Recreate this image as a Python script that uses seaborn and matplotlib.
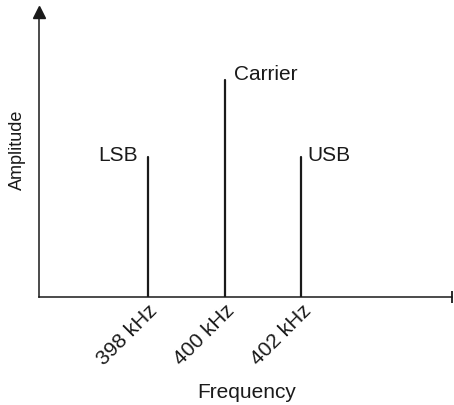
import matplotlib
matplotlib.use("Agg")
import matplotlib.pyplot as plt
import seaborn as sns
import pandas as pd

# Spectrum of an AM signal: carrier plus lower/upper sidebands
freqs_khz = [398, 400, 402]
amplitudes = [0.645, 1.0, 0.645]
names = ["LSB", "Carrier", "USB"]
tick_labels = ["398 kHz", "400 kHz", "402 kHz"]

sns.set_theme(style="white")
plt.rcParams["font.family"] = ["Liberation Sans", "DejaVu Sans"]

ink = "#1a1a1a"

# each spectral line is a segment from the baseline up to its amplitude
rows = []
for name, f, a in zip(names, freqs_khz, amplitudes):
    rows.append({"signal": name, "freq": f, "amp": 0.0})
    rows.append({"signal": name, "freq": f, "amp": a})
df = pd.DataFrame(rows)

fig = plt.figure(figsize=(4.54, 4.05), dpi=100)
ax = fig.add_axes([38.5 / 454, 108 / 405, (452 - 38.5) / 454, (393 - 108) / 405])

sns.lineplot(data=df, x="freq", y="amp", units="signal", estimator=None,
             color=ink, linewidth=1.6, sort=False, ax=ax, legend=False)

ax.set_xlim(395.147, 405.935)
ax.set_ylim(0, 1.313)

# axis lines
for side in ("top", "right"):
    ax.spines[side].set_visible(False)
for side in ("left", "bottom"):
    ax.spines[side].set_color(ink)
    ax.spines[side].set_linewidth(1.1)

# arrow head on the amplitude axis and end bar on the frequency axis
ax.plot([0], [1.0], marker="^", markersize=8, color=ink, transform=ax.transAxes,
        clip_on=False)
ax.plot([1.0], [0], marker="|", markersize=8, markeredgewidth=1.3, color=ink,
        transform=ax.transAxes, clip_on=False)

ax.set_yticks([])
ax.set_xticks(freqs_khz)
ax.set_xticklabels(tick_labels, rotation=45, ha="right", va="top",
                   rotation_mode="anchor", fontsize=15, color=ink)
ax.tick_params(axis="x", length=0, pad=3)

ax.set_xlabel("Frequency", fontsize=15, color=ink)
ax.xaxis.set_label_coords(0.504, -0.302)
ax.set_ylabel("Amplitude", fontsize=13, color=ink)
ax.yaxis.set_label_coords(-0.030, 0.5175)

# labels next to each spectral line (offsets in points, baseline-anchored)
offsets = {"LSB": (-7, -3, "right"), "Carrier": (6.7, 0, "left"), "USB": (4.5, -3, "left")}
for name, f, a in zip(names, freqs_khz, amplitudes):
    dx, dy, ha = offsets[name]
    ax.annotate(name, (f, a), xytext=(dx, dy), textcoords="offset points",
                ha=ha, va="baseline", fontsize=15, color=ink)

fig.savefig("out.png", dpi=100)
